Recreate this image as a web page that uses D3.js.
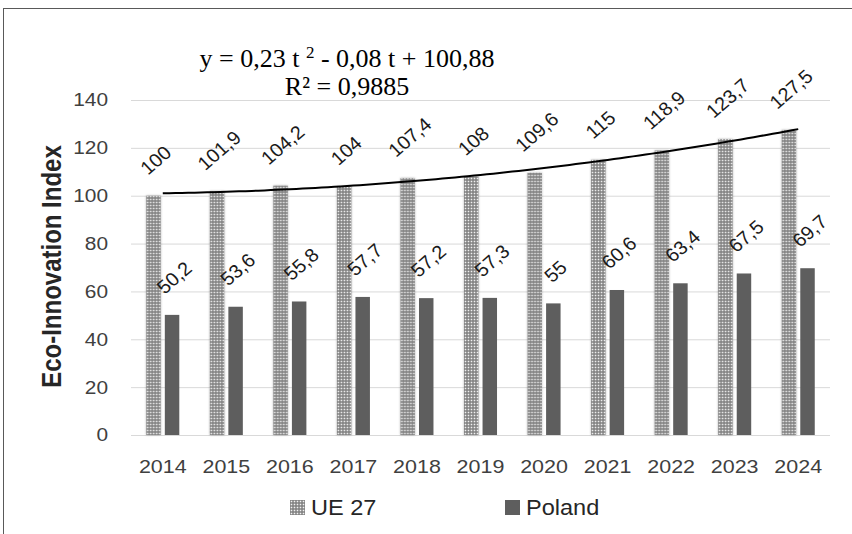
<!DOCTYPE html>
<html>
<head>
<meta charset="utf-8">
<script src="https://cdn.jsdelivr.net/npm/d3@7"></script>
<style>
  body { margin: 0; background: #fff; }
  svg { display: block; font-family: "Liberation Sans", Arial, sans-serif; }
</style>
</head>
<body>
<script>
// data
var years = ["2014", "2015", "2016", "2017", "2018", "2019", "2020", "2021", "2022", "2023", "2024"];
var ue27 = [100, 101.9, 104.2, 104, 107.4, 108, 109.6, 115, 118.9, 123.7, 127.5];
var poland = [50.2, 53.6, 55.8, 57.7, 57.2, 57.3, 55, 60.6, 63.4, 67.5, 69.7];
var seriesNames = ["UE 27", "Poland"];
var yTicks = [0, 20, 40, 60, 80, 100, 120, 140];
// polynomial trendline shown on the chart: y = 0,23 t^2 - 0,08 t + 100,88
var trendCoef = [0.23, -0.08, 100.88];

var SX = 1.13; // the reference text is a bit wider than plain Arial

var svg = d3.select("body").append("svg")
    .attr("width", 852)
    .attr("height", 534);

var defs = svg.append("defs");
var pat = defs.append("pattern")
    .attr("id", "dots")
    .attr("patternUnits", "userSpaceOnUse")
    .attr("width", 3).attr("height", 3);
pat.append("rect").attr("width", 3).attr("height", 3).attr("fill", "#7c7c7c");
pat.append("rect").attr("x", 0.7).attr("y", 0.7).attr("width", 1.6).attr("height", 1.6).attr("fill", "#f2f2f2");

var shadow = defs.append("filter").attr("id", "soft")
    .attr("x", "-50%").attr("y", "-5%").attr("width", "200%").attr("height", "110%");
shadow.append("feDropShadow")
    .attr("dx", 0).attr("dy", 0).attr("stdDeviation", 1.2)
    .attr("flood-color", "#000").attr("flood-opacity", 0.3);

// outer frame (only top and left edges show)
svg.append("rect")
    .attr("x", 3.5).attr("y", 8.5)
    .attr("width", 900).attr("height", 600)
    .attr("fill", "none")
    .attr("stroke", "#595959");

var plotLeft = 131, plotRight = 830, plotTop = 100, plotBottom = 435;

var x = d3.scaleBand().domain(years).range([plotLeft, plotRight]).paddingInner(0.48).paddingOuter(0.24);
var xs = d3.scaleBand().domain(seriesNames).range([0, x.bandwidth()]).paddingInner(0.22);
var y = d3.scaleLinear().domain([0, 140]).range([plotBottom, plotTop]);

var fmt = function(d) { return String(d).replace(".", ","); };

// gridlines
var grid = svg.append("g")
    .attr("transform", "translate(" + plotLeft + ",0)")
    .call(d3.axisLeft(y).tickValues(yTicks).tickSize(-(plotRight - plotLeft)).tickFormat(""));
grid.select(".domain").remove();
grid.selectAll("line").attr("stroke", "#d9d9d9").attr("stroke-width", 1);

// y axis labels
var yAxis = svg.append("g")
    .attr("transform", "translate(108,0)")
    .call(d3.axisLeft(y).tickValues(yTicks).tickSize(0).tickPadding(0));
yAxis.select(".domain").remove();
yAxis.selectAll("text")
    .attr("x", 0)
    .attr("font-size", 18.5)
    .attr("font-family", "Liberation Sans, Arial, sans-serif")
    .attr("fill", "#404040")
    .attr("transform", "scale(" + SX + ",1)");

// x axis labels
var xAxis = svg.append("g")
    .attr("transform", "translate(0," + plotBottom + ")")
    .call(d3.axisBottom(x).tickSize(0).tickPadding(24.5));
xAxis.select(".domain").remove();
xAxis.selectAll("text")
    .attr("font-size", 19)
    .attr("font-family", "Liberation Sans, Arial, sans-serif")
    .attr("fill", "#404040")
    .attr("transform", "scale(" + SX + ",1)");

// bars
var groups = svg.append("g").selectAll("g")
    .data(years)
    .join("g")
    .attr("transform", function(d) { return "translate(" + x(d) + ",0)"; });

groups.append("rect")
    .attr("x", xs("UE 27"))
    .attr("width", xs.bandwidth())
    .attr("y", function(d, i) { return y(ue27[i]); })
    .attr("height", function(d, i) { return y(0) - y(ue27[i]); })
    .attr("fill", "url(#dots)")
    .attr("filter", "url(#soft)");

groups.append("rect")
    .attr("x", xs("Poland"))
    .attr("width", xs.bandwidth())
    .attr("y", function(d, i) { return y(poland[i]); })
    .attr("height", function(d, i) { return y(0) - y(poland[i]); })
    .attr("fill", "#5e5e5e");

// trendline
var tScale = d3.scaleLinear().domain([1, years.length])
    .range([x(years[0]) + x.bandwidth() / 2, x(years[years.length - 1]) + x.bandwidth() / 2]);
var tVals = d3.range(1, years.length + 0.001, 0.1);
var trend = d3.line()
    .x(function(t) { return tScale(t); })
    .y(function(t) { return y(trendCoef[0] * t * t + trendCoef[1] * t + trendCoef[2]); });
svg.append("path")
    .datum(tVals)
    .attr("d", trend)
    .attr("fill", "none")
    .attr("stroke", "#000")
    .attr("stroke-width", 2);

// data labels, rotated, sitting above the bar end
var labelSize = 19, labelAngle = 42;
function addLabels(values, key) {
  var a = labelAngle * Math.PI / 180;
  svg.append("g").selectAll("text")
    .data(values)
    .join("text")
      .attr("font-size", labelSize)
      .attr("fill", "#1a1a1a")
      .attr("text-anchor", "middle")
      .attr("dominant-baseline", "central")
      .text(fmt)
      .attr("transform", function(d, i) {
        var w = this.getComputedTextLength();
        var hc = 0.716 * labelSize;
        var vExt = w * Math.sin(a) + hc * Math.cos(a);
        var cx = x(years[i]) + xs(key) + xs.bandwidth() / 2 + 2;
        var cy = y(d) - vExt / 2 - 20;
        return "translate(" + cx + "," + cy + ") scale(1.05,1) rotate(" + (-labelAngle) + ")";
      });
}
addLabels(ue27, "UE 27");
addLabels(poland, "Poland");

// trendline equation
var eq = svg.append("text")
    .attr("x", 347).attr("y", 66.5)
    .attr("text-anchor", "middle")
    .attr("font-family", "Liberation Serif, Times New Roman, serif")
    .attr("font-size", 26)
    .attr("fill", "#000");
eq.append("tspan").text("y = 0,23 t ");
eq.append("tspan").attr("dy", -9).attr("font-size", 17).text("2");
eq.append("tspan").attr("dy", 9).text(" - 0,08 t + 100,88");

svg.append("text")
    .attr("x", 347).attr("y", 95)
    .attr("text-anchor", "middle")
    .attr("font-family", "Liberation Serif, Times New Roman, serif")
    .attr("font-size", 26)
    .attr("fill", "#000")
    .text("R² = 0,9885");

// y axis title
svg.append("text")
    .attr("transform", "translate(51,266.5) scale(" + SX + ",1) rotate(-90)")
    .attr("text-anchor", "middle")
    .attr("dominant-baseline", "central")
    .attr("font-size", 24)
    .attr("font-weight", "bold")
    .attr("fill", "#262626")
    .text("Eco-Innovation Index");

// legend
var legendX = [290, 505];
var legend = svg.append("g").selectAll("g")
    .data(seriesNames)
    .join("g")
    .attr("transform", function(d, i) { return "translate(" + legendX[i] + ",500)"; });
legend.append("rect")
    .attr("width", 15).attr("height", 15)
    .attr("fill", function(d, i) { return i === 0 ? "url(#dots)" : "#5e5e5e"; });
legend.append("text")
    .attr("transform", "translate(21,15) scale(1.07,1)")
    .attr("font-size", 22)
    .attr("fill", "#262626")
    .text(function(d) { return d; });
</script>
</body>
</html>
